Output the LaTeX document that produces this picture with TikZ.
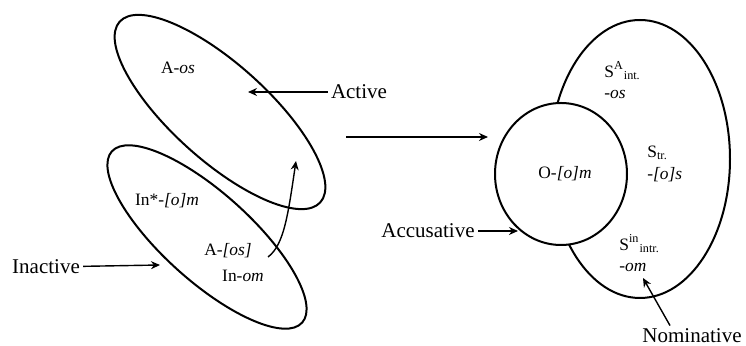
\documentclass[tikz,border=0pt]{standalone}
\usepackage{fontspec}
\setmainfont{Liberation Serif}
\usepackage{tikz}
\usetikzlibrary{arrows.meta,shapes.geometric,calc}

\begin{document}
\begin{tikzpicture}[x=0.5pt, y=-0.5pt,
        ring/.style={draw, ellipse, line width=1pt, inner sep=0pt},
        form/.style={font=\fontsize{8.7}{10.6}\selectfont, align=left, inner sep=0pt},
        lbl/.style={font=\fontsize{10.5}{12}\selectfont, inner sep=1.5pt},
        arr/.style={-{Stealth[length=4.5pt, width=4pt]}, line width=0.7pt}]
        \useasboundingbox (0,0) rectangle (746,346);
        % left: active / inactive
        \node[ring, minimum width=135pt, minimum height=48pt, rotate=-42] (actring) at (220,112) {};
        \node[ring, minimum width=128pt, minimum height=44pt, rotate=-42] (inring) at (207,237) {};
        \node[form] (aos) at (178,68) {A-\textit{os}};
        \node[form] (inom1) at (167,201) {In*-\textit{[o]m}};
        \node[form] (aos2) at (228,251) {A-\textit{[os]}};
        \node[form] (inom2) at (243,276) {In-\textit{om}};
        % right: nominative / accusative
        \node[ring, minimum width=90pt, minimum height=139pt] (nomring) at (640,159) {};
        \node[ring, fill=white, minimum width=66pt, minimum height=71pt] (accring) at (561,174) {};
        \node[form] (om) at (565,174) {O-\textit{[o]m}};
        \node[form, anchor=west] (sa) at (604,80) {S\textsuperscript{A}\textsubscript{int.}\\-\textit{os}};
        \node[form, anchor=west] (str) at (647,164) {S\textsubscript{tr.}\\\textit{-[o]s}};
        \node[form, anchor=west] (sin) at (619,253) {S\textsuperscript{in}\textsubscript{intr.}\\-\textit{om}};
        % labels
        \node[lbl] (active) at (359,92) {Active};
        \node[lbl] (inactive) at (46,267) {Inactive};
        \node[lbl] (accus) at (428,231) {Accusative};
        \node[lbl] (nomin) at (692,336) {Nominative};
        \coordinate (acttip) at (248,92);
        \coordinate (intip) at (160,265);
        \coordinate (acctip) at (518,231);
        \coordinate (nomtip) at (643,278);
        \coordinate (hook) at (268,257);
        \coordinate (hooktip) at (296,161);
        \coordinate (from) at (346,137);
        \coordinate (to) at (488,137);
        \draw[arr] (active) -- (acttip);
        \draw[arr] (inactive) -- (intip);
        \draw[arr] (accus) -- (acctip);
        \draw[arr] ($(nomin.north)+(-22,0)$) -- (nomtip);
        \draw[arr] (hook) .. controls (284,245) and (288,215) .. (hooktip);
        \draw[arr] (from) -- (to);
\end{tikzpicture}
\end{document}
